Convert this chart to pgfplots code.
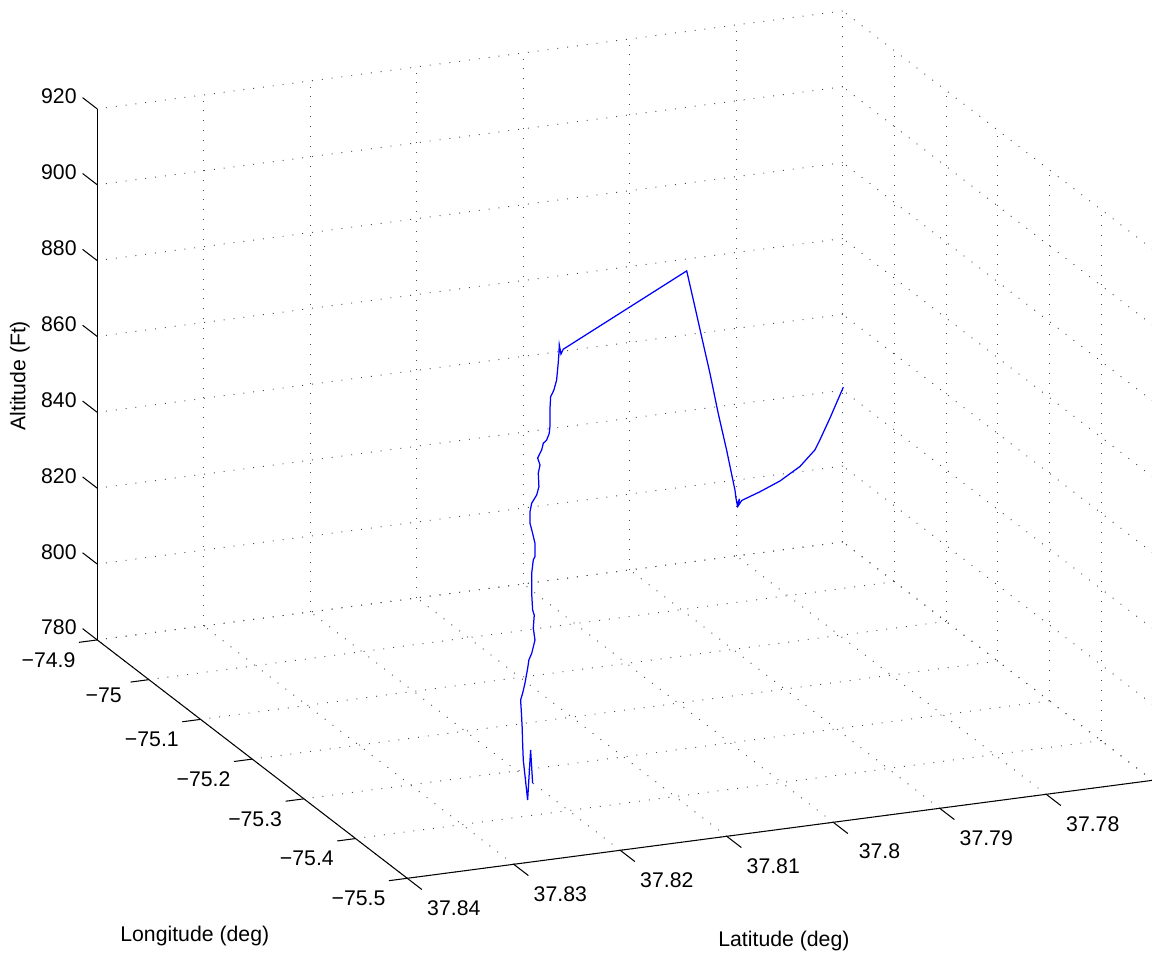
\documentclass[border=0pt]{standalone}
\usepackage{fontspec}
\setmainfont{Liberation Sans}
\usepackage{pgfplots}
\pgfplotsset{compat=1.18}

\begin{document}
\begin{tikzpicture}
\begin{axis}[
  x={(-248.0pt,190.7pt)},
  y={(-5112pt,-672pt)},
  z={(0pt,1.8206pt)},
  xmin=-75.5, xmax=-74.9,
  ymin=37.77, ymax=37.84,
  zmin=780, zmax=920,
  xtick={-75.5,-75.4,-75.3,-75.2,-75.1,-75,-74.9},
  xticklabels={−75.5,−75.4,−75.3,−75.2,−75.1,−75,−74.9},
  ytick={37.77,37.78,37.79,37.8,37.81,37.82,37.83,37.84},
  yticklabels={,37.78,37.79,37.8,37.81,37.82,37.83,37.84},
  ztick={780,800,820,840,860,880,900,920},
  zticklabels={780,800,820,840,860,880,900,920},
  grid=major,
  major grid style={black!70, line width=0.45pt, dash pattern=on 0.45pt off 4.3pt},
  axis line style={draw=none},
  tick align=outside,
  major tick length=8.9pt,
  tick style={draw=none},
  ticklabel style={font=\fontsize{10.2}{12}\selectfont},
  xticklabel style={xshift=-4.3pt, yshift=3.4pt},
  yticklabel style={xshift=11pt, yshift=-0.3pt},
  zticklabel style={xshift=2.4pt, yshift=3.8pt},
  clip=false,
]
\addplot3[blue, line width=0.6pt] coordinates {
(-75.47,37.82677,797.0) (-75.47,37.82696,805.9) (-75.47,37.82724,792.8)
(-75.47,37.82765,803.5) (-75.47,37.82771,807.9) (-75.47,37.82775,811.9)
(-75.47,37.82782,815.7) (-75.47,37.82790,819.4) (-75.47,37.82771,821.1)
(-75.47,37.82749,823.7) (-75.47,37.82724,827.5) (-75.47,37.82712,829.7)
(-75.47,37.82686,831.3) (-75.47,37.82655,834.7) (-75.47,37.82671,837.9)
(-75.47,37.82662,841.3) (-75.47,37.82677,842.7) (-75.47,37.82686,847.1)
(-75.47,37.82686,852.4) (-75.47,37.82671,855.9) (-75.47,37.82655,856.7)
(-75.47,37.82655,860.2) (-75.47,37.82677,862.9) (-75.47,37.82702,865.7)
(-75.47,37.82702,868.7) (-75.47,37.82686,870.9) (-75.47,37.82639,872.9)
(-75.47,37.82618,875.0) (-75.47,37.82624,878.6) (-75.47,37.82608,880.7)
(-75.47,37.82630,882.6) (-75.47,37.82592,884.6) (-75.47,37.82577,886.3)
(-75.47,37.82546,887.0) (-75.47,37.82521,888.7) (-75.47,37.82515,890.4)
(-75.47,37.82515,894.8) (-75.47,37.82508,898.3) (-75.47,37.82477,900.0)
(-75.47,37.82452,902.5) (-75.47,37.82437,906.9) (-75.47,37.82430,909.5)
(-75.47,37.82427,911.7) (-75.47,37.82411,909.2) (-75.47,37.82390,910.4)
(-75.25,37.80163,899.8) (-75.2195,37.79938,886.3) (-75.1938,37.79750,875.0)
(-75.1626,37.79521,861.3) (-75.1284,37.79277,846.2) (-75.0970,37.79046,832.4)
(-75.0628,37.78802,817.4) (-75.057,37.78764,814.5) (-75.05,37.78718,811.8)
(-75.048,37.78688,813.1) (-75.045,37.78683,811.0) (-75.04,37.78628,811.6)
(-75.0166,37.78343,810.4) (-74.991,37.78031,809.4) (-74.9654,37.77719,809.4)
(-74.9462,37.77485,810.9) (-74.9398,37.77407,812.6) (-74.927,37.77251,816.4)
(-74.91,37.77043,822.0)
};
% axis lines
\draw[black, line width=0.5pt] (axis cs:-75.5,37.84,780) -- (axis cs:-74.9,37.84,780);
\draw[black, line width=0.5pt] (axis cs:-75.5,37.84,780) -- (axis cs:-75.5,37.77,780);
\draw[black, line width=0.5pt] (axis cs:-74.9,37.84,780) -- (axis cs:-74.9,37.84,920);
% tick marks, pointing out of the box
\pgfplotsinvokeforeach{-75.5,-75.4,-75.3,-75.2,-75.1,-75,-74.9}{
  \draw[black, line width=0.5pt] (axis cs:#1,37.84,780) -- (axis cs:#1,37.84172,780);}
\pgfplotsinvokeforeach{37.77,37.78,37.79,37.8,37.81,37.82,37.83,37.84}{
  \draw[black, line width=0.5pt] (axis cs:-75.5,#1,780) -- (axis cs:-75.5284,#1,780);}
\pgfplotsinvokeforeach{780,800,820,840,860,880,900,920}{
  \draw[black, line width=0.5pt] (axis cs:-74.9,37.84,#1) -- (axis cs:-74.8716,37.84,#1);}
\coordinate (O) at (axis cs:-75.5,37.84,780);
\end{axis}
\node[font=\fontsize{10.2}{12}\selectfont] at ([shift={(-102.0pt,-27.6pt)}]O) {Longitude (deg)};
\node[font=\fontsize{10.2}{12}\selectfont] at ([shift={(180.8pt,-30.0pt)}]O) {Latitude (deg)};
\node[font=\fontsize{10.2}{12}\selectfont, rotate=90] at ([shift={(-185.9pt,241.2pt)}]O) {Altitude (Ft)};
\pgfresetboundingbox
\path ([shift={(-195.5pt,-37.3pt)}]O) rectangle ([shift={(357.5pt,421.6pt)}]O);
\end{tikzpicture}
\end{document}
